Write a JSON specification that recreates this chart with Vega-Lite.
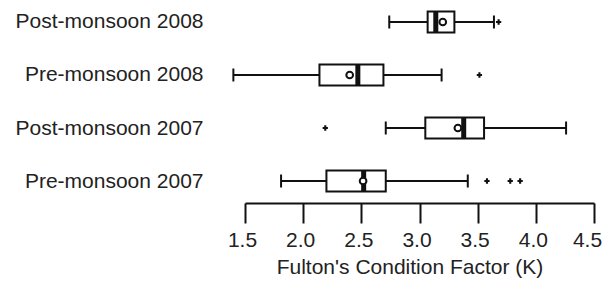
{
  "$schema": "https://vega.github.io/schema/vega-lite/v6.json",
  "width": 349,
  "height": 203,
  "autosize": {"type": "none"},
  "padding": {"left": 245, "top": 0, "right": 12, "bottom": 79},
  "background": "white",
  "config": {"view": {"stroke": null}, "font": "Liberation Sans"},
  "datasets": {
    "stats": [
      {"group": "Post-monsoon 2008", "lower": 2.74, "q1": 3.07, "median": 3.14, "mean": 3.2, "q3": 3.3, "upper": 3.64},
      {"group": "Pre-monsoon 2008", "lower": 1.4, "q1": 2.14, "median": 2.47, "mean": 2.4, "q3": 2.69, "upper": 3.19},
      {"group": "Post-monsoon 2007", "lower": 2.71, "q1": 3.05, "median": 3.38, "mean": 3.33, "q3": 3.555, "upper": 4.26},
      {"group": "Pre-monsoon 2007", "lower": 1.81, "q1": 2.2, "median": 2.52, "mean": 2.515, "q3": 2.71, "upper": 3.415}
    ],
    "outliers": [
      {"group": "Post-monsoon 2008", "value": 3.68},
      {"group": "Pre-monsoon 2008", "value": 3.515},
      {"group": "Post-monsoon 2007", "value": 2.19},
      {"group": "Pre-monsoon 2007", "value": 3.58},
      {"group": "Pre-monsoon 2007", "value": 3.78},
      {"group": "Pre-monsoon 2007", "value": 3.865}
    ]
  },
  "encoding": {
    "y": {
      "field": "group",
      "type": "nominal",
      "sort": ["Post-monsoon 2008", "Pre-monsoon 2008", "Post-monsoon 2007", "Pre-monsoon 2007"],
      "scale": {"type": "point", "padding": 0.415},
      "axis": {
        "title": null,
        "domain": false,
        "ticks": false,
        "labelPadding": 42,
        "labelFontSize": 21,
        "labelColor": "#222",
        "labelDy": 2,
        "labelLimit": 300
      }
    }
  },
  "layer": [
    {
      "data": {"name": "stats"},
      "mark": {"type": "rule", "stroke": "#111", "strokeWidth": 2},
      "encoding": {
        "x": {
          "field": "lower",
          "type": "quantitative",
          "scale": {"domain": [1.5, 4.5], "nice": false, "zero": false},
          "axis": {
            "title": "Fulton's Condition Factor (K)",
            "values": [1.5, 2, 2.5, 3, 3.5, 4, 4.5],
            "format": ".1f",
            "grid": false,
            "tickSize": 20,
            "tickWidth": 2,
            "tickColor": "#111",
            "domainWidth": 2,
            "domainColor": "#111",
            "labelFontSize": 21,
            "labelColor": "#222",
            "labelPadding": 6,
            "labelOffset": {"condition": {"test": "datum.value >= 4.5", "value": -7}, "value": -3},
            "labelFlush": false,
            "labelOverlap": false,
            "labelBound": false,
            "titleFontSize": 21,
            "titleFontWeight": "normal",
            "titleColor": "#222",
            "titlePadding": 6,
            "titleX": 164.5
          }
        },
        "x2": {"field": "upper"}
      }
    },
    {
      "data": {"name": "stats"},
      "mark": {"type": "tick", "color": "#111", "thickness": 2, "size": 13, "opacity": 1},
      "encoding": {"x": {"field": "lower", "type": "quantitative"}}
    },
    {
      "data": {"name": "stats"},
      "mark": {"type": "tick", "color": "#111", "thickness": 2, "size": 13, "opacity": 1},
      "encoding": {"x": {"field": "upper", "type": "quantitative"}}
    },
    {
      "data": {"name": "stats"},
      "mark": {"type": "bar", "fill": "white", "stroke": "#111", "strokeWidth": 2, "size": 21},
      "encoding": {"x": {"field": "q1", "type": "quantitative"}, "x2": {"field": "q3"}}
    },
    {
      "data": {"name": "stats"},
      "mark": {"type": "tick", "color": "#111", "thickness": 5, "size": 21, "opacity": 1},
      "encoding": {"x": {"field": "median", "type": "quantitative"}}
    },
    {
      "data": {"name": "stats"},
      "mark": {"type": "point", "shape": "circle", "filled": true, "fill": "white", "stroke": "#111", "strokeWidth": 2, "size": 45, "opacity": 1},
      "encoding": {"x": {"field": "mean", "type": "quantitative"}}
    },
    {
      "data": {"name": "outliers"},
      "mark": {"type": "point", "shape": "cross", "filled": true, "color": "#111", "size": 28, "opacity": 1},
      "encoding": {"x": {"field": "value", "type": "quantitative"}}
    }
  ]
}
